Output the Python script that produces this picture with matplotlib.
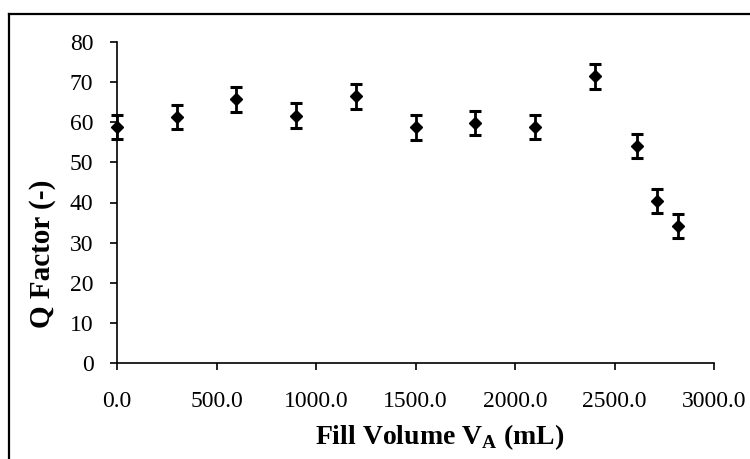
import matplotlib
matplotlib.use("Agg")
import matplotlib.pyplot as plt
from matplotlib.lines import Line2D
from matplotlib.ticker import FormatStrFormatter

# fill volume (mL), Q factor and its error
fill_volume = [0, 300, 600, 900, 1200, 1500, 1800, 2100, 2400, 2615, 2715, 2820]
q_factor = [58.9, 61.2, 65.7, 61.6, 66.5, 58.7, 59.9, 58.9, 71.5, 54.1, 40.4, 34.2]
q_err = [3.0, 3.0, 3.1, 3.1, 3.1, 3.0, 3.0, 3.0, 3.1, 3.0, 3.0, 3.0]

x_ticks = [0, 500, 1000, 1500, 2000, 2500, 3000]
y_ticks = [0, 10, 20, 30, 40, 50, 60, 70, 80]

plt.rcParams["font.family"] = ["Liberation Serif", "DejaVu Serif"]
plt.rcParams["mathtext.fontset"] = "custom"
plt.rcParams["mathtext.rm"] = "Liberation Serif"
plt.rcParams["mathtext.bf"] = "Liberation Serif:bold"

W, H = 750, 459
x0, x1, y0, y1 = 117, 714, 363, 42   # plot area in pixels
fig = plt.figure(figsize=(W / 100, H / 100), dpi=100)
ax = fig.add_axes([x0 / W, 1 - y0 / H, (x1 - x0) / W, (y0 - y1) / H])

ax.errorbar(fill_volume, q_factor, yerr=q_err, fmt="D", color="black",
            markersize=6.2, ecolor="black", elinewidth=2, capsize=4.5,
            capthick=2.2, clip_on=False, zorder=3)

ax.set_xlim(0, 3000)
ax.set_ylim(0, 80)
ax.set_xticks(x_ticks)
ax.set_yticks(y_ticks)
ax.xaxis.set_major_formatter(FormatStrFormatter("%.1f"))

for side in ("top", "right"):
    ax.spines[side].set_visible(False)
for side in ("left", "bottom"):
    ax.spines[side].set_linewidth(1.2)
    ax.spines[side].set_color("black")
ax.tick_params(direction="out", length=5, width=1.2, labelsize=17,
               colors="black")
ax.tick_params(axis="x", pad=15)
ax.tick_params(axis="y", pad=12)

ax.set_xlabel(r"Fill Volume V$_\mathbf{A}$ (mL)", fontsize=20,
              fontweight="bold")
ax.xaxis.set_label_coords((440 - x0) / (x1 - x0), (y0 - 437) / (y0 - y1))
ax.xaxis.label.set_va("center")

ax.set_ylabel("Q Factor (-)", fontsize=21, fontweight="bold")
ax.yaxis.set_label_coords((43 - x0) / (x1 - x0), (y0 - 254) / (y0 - y1))
ax.yaxis.label.set_va("center")

# chart border (only left and top edges visible in the crop)
bx, by = 8.5 / W, 1 - 13.5 / H
fig.add_artist(Line2D([bx, bx], [0, by], transform=fig.transFigure,
                      color="black", lw=1.6))
fig.add_artist(Line2D([bx, 1], [by, by], transform=fig.transFigure,
                      color="black", lw=1.6))

fig.savefig("out.png", dpi=100)
